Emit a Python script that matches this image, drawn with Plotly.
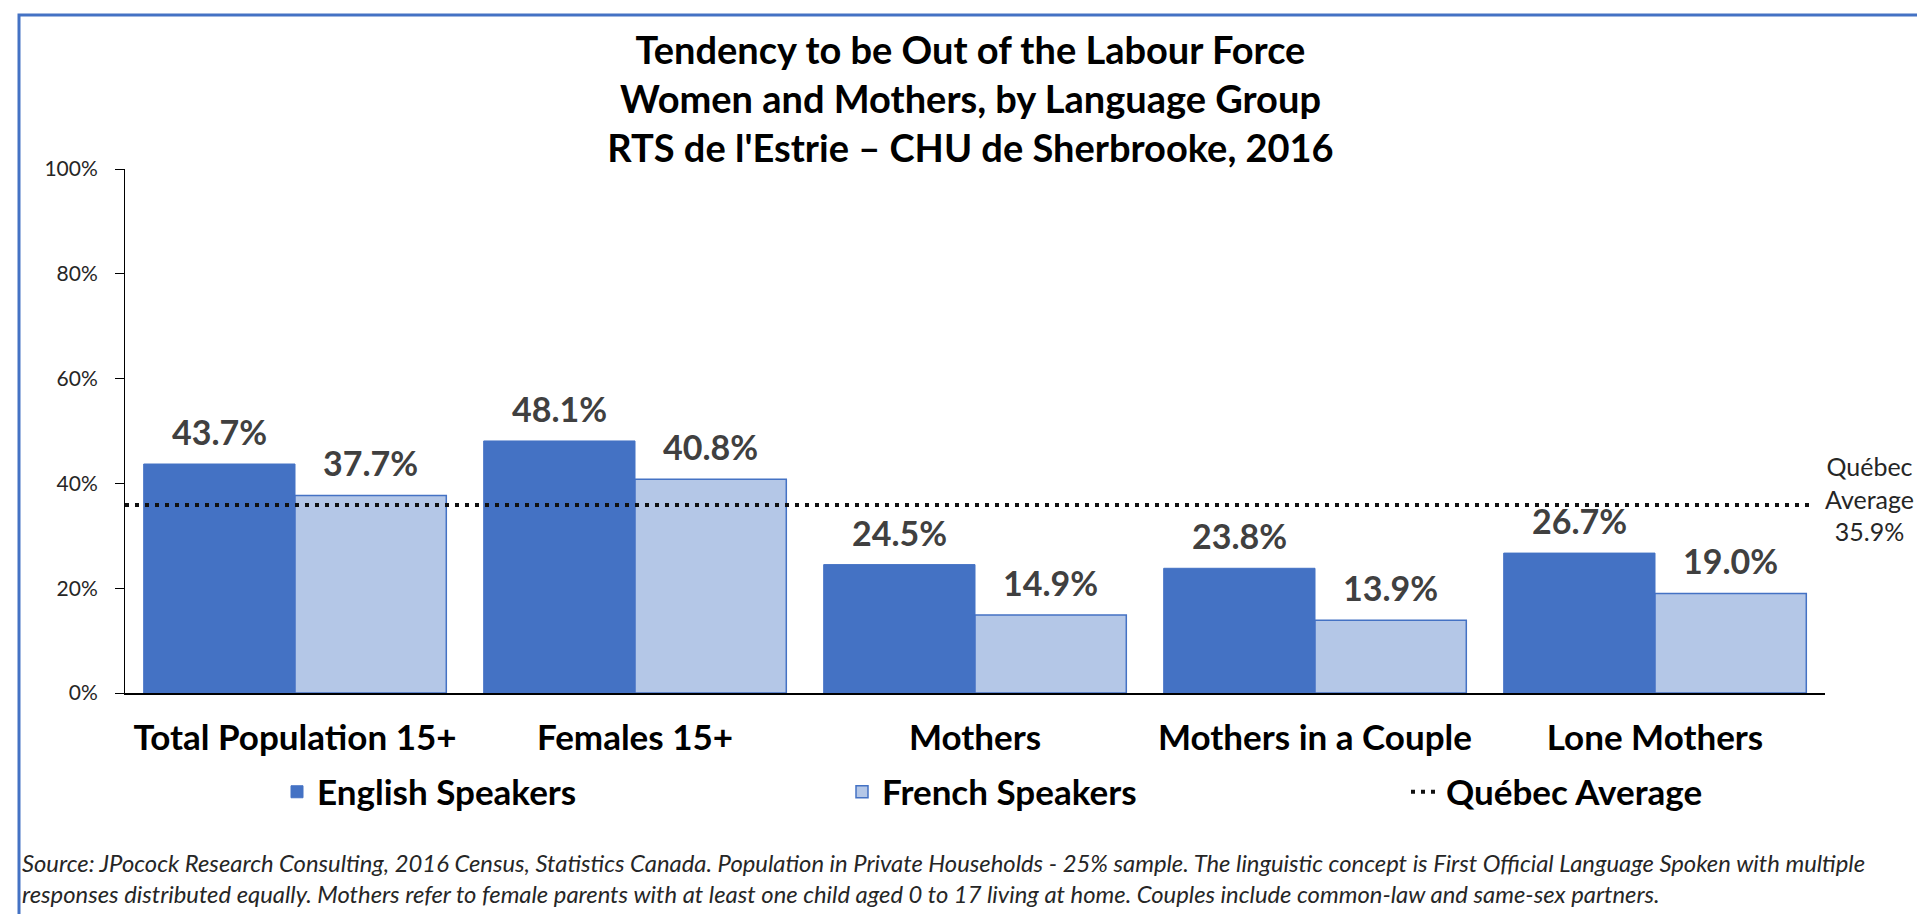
import plotly.graph_objects as go

# ---------------- data ----------------
categories = ["Total Population 15+", "Females 15+", "Mothers", "Mothers in a Couple", "Lone Mothers"]
english_speakers = [43.7, 48.1, 24.5, 23.8, 26.7]
french_speakers = [37.7, 40.8, 14.9, 13.9, 19.0]
quebec_average = 35.9
y_ticks = [0, 20, 40, 60, 80, 100]
y_tick_labels = [f"{v}%" for v in y_ticks]

title_lines = [
    "Tendency to be Out of the Labour Force",
    "Women and Mothers, by Language Group",
    "RTS de l'Estrie \u2013 CHU de Sherbrooke, 2016",
]
source_lines = [
    "Source: JPocock Research Consulting, 2016 Census, Statistics Canada. Population in Private Households - 25% sample. "
    "The linguistic concept is First Official Language Spoken with multiple",
    "responses distributed equally. Mothers refer to female parents with at least one child aged 0 to 17 living at home. "
    "Couples include common-law and same-sex partners.",
]

# ---------------- layout geometry (pixels) ----------------
W, H = 1925, 914
L, R, T, B = 117, 108, 161, 229
PW, PH = W - L - R, H - T - B


def px_x(px):
    return (px - L) / PW


def px_y(py):
    return (H - B - py) / PH


FONT = "Lato"
BLUE = "#4472C4"
LIGHT = "#B4C7E7"
BARGAP = 0.11

xpos = list(range(len(categories)))

fig = go.Figure()
fig.add_trace(go.Bar(
    x=xpos, y=english_speakers, name="English Speakers",
    marker=dict(color=BLUE, line=dict(color=BLUE, width=1)),
    legend="legend", hoverinfo="y",
))
fig.add_trace(go.Bar(
    x=xpos, y=french_speakers, name="French Speakers",
    marker=dict(color=LIGHT, line=dict(color=BLUE, width=1.5)),
    legend="legend2", hoverinfo="y",
))
fig.add_trace(go.Scatter(
    x=[-0.5, len(categories) - 0.54], y=[quebec_average, quebec_average],
    mode="lines", name="Qu\u00e9bec Average",
    line=dict(color="#111111", width=4, dash="4px,6px"),
    legend="legend3", hoverinfo="skip",
))

# data labels above bars (bar centres derived from the group layout)
half = (1 - BARGAP) / 4
for series, sign in ((english_speakers, -1), (french_speakers, 1)):
    for i, v in enumerate(series):
        fig.add_annotation(
            x=i + sign * half, y=v, xref="x", yref="y",
            text=f"{v:.1f}%", showarrow=False,
            xanchor="center", yanchor="bottom", yshift=10,
            font=dict(family=FONT, size=34, color="#404040", weight="bold"),
        )

legend_common = dict(
    orientation="h", xanchor="left", yanchor="middle", y=px_y(784),
    font=dict(family=FONT, size=35, color="black", weight="bold"),
    bgcolor="rgba(0,0,0,0)", itemwidth=30,
)

fig.update_layout(
    width=W, height=H,
    margin=dict(l=L, r=R, t=T, b=B),
    paper_bgcolor="white", plot_bgcolor="white",
    barmode="group", bargap=BARGAP, bargroupgap=0,
    font=dict(family=FONT, color="#262626"),
    title=dict(
        text="<br>".join(title_lines),
        font=dict(family=FONT, size=38, color="black", weight="bold"),
        x=0.5, xref="container", xanchor="center",
        y=1 - 55.5 / H, yref="container", yanchor="middle",
    ),
    xaxis=dict(
        range=[-0.5, len(categories) - 0.5],
        tickvals=xpos, ticktext=categories,
        tickfont=dict(family=FONT, size=35, color="black", weight="bold"),
        showline=True, linecolor="black", linewidth=2,
        ticks="", showgrid=False, zeroline=False,
        ticklabelstandoff=13,
    ),
    yaxis=dict(
        range=[0, 100], tickvals=y_ticks, ticktext=y_tick_labels,
        tickfont=dict(family=FONT, size=21, color="#262626"),
        showline=True, linecolor="black", linewidth=1,
        ticks="outside", ticklen=9, tickcolor="black", tickwidth=1,
        ticklabelstandoff=13,
        showgrid=False, zeroline=False,
    ),
    legend=dict(x=px_x(269), **legend_common),
    legend2=dict(x=px_x(834), **legend_common),
    legend3=dict(x=px_x(1398), **legend_common),
    showlegend=True,
)

# Québec average side label
fig.add_annotation(
    text="Qu\u00e9bec<br>Average<br>" + f"{quebec_average:.1f}%",
    xref="paper", yref="y", x=px_x(1861), y=quebec_average, yshift=6,
    xanchor="center", yanchor="middle", showarrow=False,
    font=dict(family=FONT, size=25, color="#262626"), align="center",
)

# source note
fig.add_annotation(
    text="<br>".join(source_lines),
    xref="paper", yref="paper", x=px_x(12), y=px_y(870),
    xanchor="left", yanchor="middle", showarrow=False, align="left",
    font=dict(family=FONT, size=23.8, color="#262626", style="italic"),
)

# chart border
fig.add_shape(
    type="rect", xref="paper", yref="paper",
    x0=px_x(11), x1=px_x(1919), y0=px_y(930), y1=px_y(7),
    line=dict(color=BLUE, width=3), fillcolor="rgba(0,0,0,0)", layer="below",
)

fig.write_html("out.html")
